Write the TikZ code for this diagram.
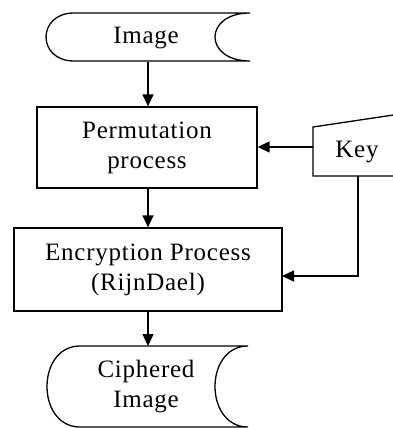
\documentclass[tikz,border=0pt]{standalone}
\usepackage{fontspec}
\setmainfont{Liberation Serif}[LetterSpace=3]
\usetikzlibrary{arrows.meta}
\tikzset{
  shp/.style={draw=black, line width=1.3pt},
  procbox/.style={draw=black, line width=1.3pt, align=center, inner sep=0pt},
  lbl/.style={align=center, inner sep=0pt, font=\fontsize{25}{30}\selectfont},
  arr/.style={line width=1.4pt, -{Triangle[width=11pt,length=12pt]}},
}
\begin{document}
\begin{tikzpicture}[x=1pt,y=-1pt]
\useasboundingbox (0,0) rectangle (393,428);
% Image (stored data)
\draw[shp] (74,13) -- (250,13) .. controls (203.3,13) and (203.3,61) .. (250,61)
  -- (74,61) .. controls (36.7,61) and (36.7,13) .. (74,13) -- cycle;
\node[lbl, minimum width=204, minimum height=48] (img) at (146,38) {Image};
% Permutation process
\node[procbox, lbl, minimum width=220, minimum height=81] (perm) at (147,147.5) {Permutation\\process};
% Key (manual input)
\draw[shp] (313,127) -- (400,114) -- (400,176) -- (313,176) -- cycle;
\node[lbl] (key) at (357,152) {Key};
\coordinate (keyL) at (313,147);
\coordinate (keyB) at (358,176);
% Encryption
\node[procbox, lbl, minimum width=268, minimum height=83] (enc) at (148,269.5) {Encryption Process\\(RijnDael)};
\coordinate (encIn) at (282,276);
% Ciphered Image
\draw[shp] (80,346) -- (248,346) .. controls (204,346) and (204,427) .. (248,427)
  -- (80,427) .. controls (36,427) and (36,346) .. (80,346) -- cycle;
\node[lbl, minimum width=201, minimum height=81] (ciph) at (146,387) {Ciphered\\Image};
\coordinate (ciphTop) at (148,346);
% connectors
\draw[arr] (img.south -| 148,0) -- (perm.north -| 148,0);
\draw[arr] (perm.south -| 148,0) -- (enc.north);
\draw[arr] (enc.south) -- (ciphTop);
\draw[arr] (keyL) -- (keyL -| perm.east);
\draw[arr] (keyB) |- (encIn);
\end{tikzpicture}
\end{document}
